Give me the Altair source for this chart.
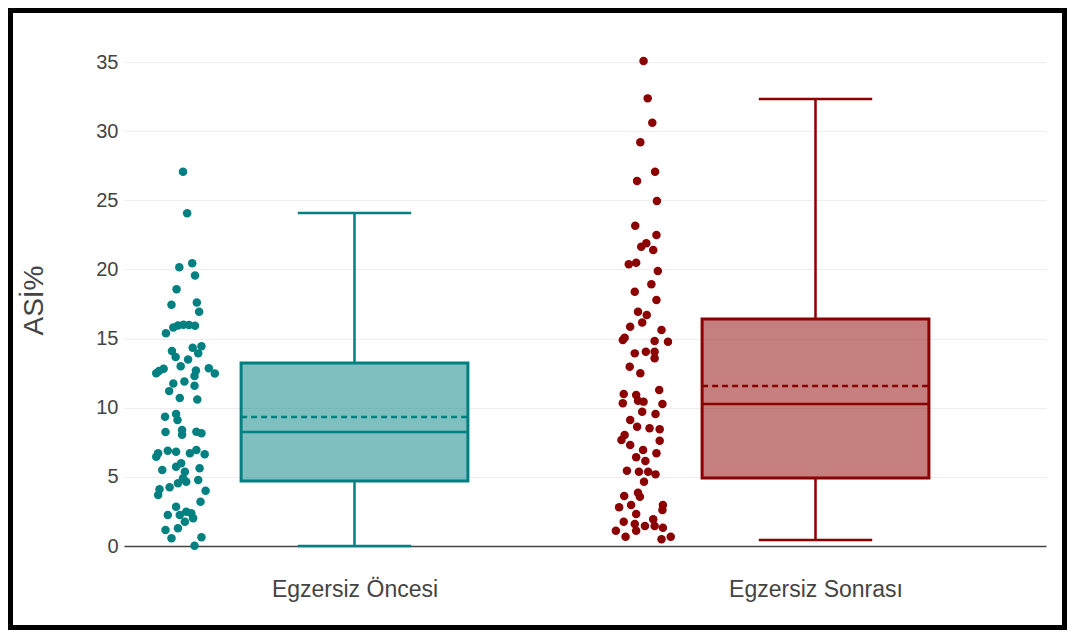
import altair as alt
import pandas as pd

# ---------------- data ----------------
categories = ["Egzersiz Öncesi", "Egzersiz Sonrası"]
colors = ["#008080", "#8B0000"]

# individual observations (ASİ %), with horizontal jitter (category units)
pre_values = [27.07, 24.06, 20.44, 20.15, 19.56, 18.57, 17.45, 17.60, 16.94, 15.39,
              15.80, 15.95, 16.00, 15.98, 15.92, 14.10, 13.66, 14.33, 14.44, 13.93,
              13.48, 13.00, 12.66, 12.82, 12.49, 12.70, 12.29, 12.85, 12.48, 11.90,
              11.75, 11.58, 11.20, 10.70, 10.60, 9.35, 9.54, 9.11, 8.24, 8.39,
              8.05, 8.27, 8.15, 6.46, 6.70, 6.89, 6.82, 6.70, 6.94, 6.63,
              5.50, 5.73, 5.98, 5.37, 4.90, 5.62, 4.77, 4.65, 4.53, 4.24,
              4.10, 3.69, 4.00, 3.20, 2.84, 2.24, 2.24, 2.48, 2.36, 2.00,
              1.76, 1.28, 1.16, 0.56, 0.63, 0.02]
pre_jitter = [-0.372, -0.363, -0.352, -0.380, -0.346, -0.386, -0.397, -0.342, -0.337, -0.409,
              -0.393, -0.383, -0.371, -0.359, -0.346, -0.396, -0.388, -0.351, -0.332, -0.339,
              -0.361, -0.377, -0.424, -0.414, -0.430, -0.344, -0.347, -0.316, -0.303, -0.369,
              -0.393, -0.347, -0.402, -0.379, -0.341, -0.411, -0.387, -0.384, -0.410, -0.374,
              -0.374, -0.343, -0.332, -0.430, -0.426, -0.405, -0.387, -0.357, -0.343, -0.325,
              -0.417, -0.387, -0.376, -0.368, -0.372, -0.336, -0.339, -0.365, -0.383, -0.401,
              -0.423, -0.426, -0.323, -0.334, -0.387, -0.405, -0.379, -0.365, -0.354, -0.350,
              -0.368, -0.383, -0.410, -0.397, -0.332, -0.347]

post_values = [35.07, 32.37, 30.61, 29.19, 27.07, 26.39, 24.95, 23.16, 22.49, 21.89,
               21.64, 21.40, 20.37, 20.49, 19.88, 18.92, 18.39, 17.79, 16.94, 16.70,
               16.17, 15.86, 15.62, 14.90, 15.06, 14.82, 14.77, 13.93, 14.05, 14.05,
               13.57, 12.97, 12.49, 11.28, 10.99, 10.92, 10.32, 10.51, 10.44, 10.27,
               9.71, 9.54, 9.11, 8.63, 8.51, 8.44, 8.03, 7.66, 7.30, 7.61,
               6.94, 6.41, 6.15, 6.70, 5.45, 5.37, 5.37, 5.18, 4.65, 3.85,
               3.62, 3.56, 2.80, 2.96, 2.31, 2.96, 2.60, 1.76, 1.11, 1.59,
               1.11, 1.45, 1.93, 1.45, 1.32, 0.67, 0.48, 0.67]
post_jitter = [-0.373, -0.364, -0.354, -0.380, -0.348, -0.387, -0.344, -0.391, -0.345, -0.367,
               -0.378, -0.352, -0.405, -0.389, -0.342, -0.356, -0.392, -0.345, -0.385, -0.366,
               -0.376, -0.402, -0.334, -0.418, -0.414, -0.349, -0.320, -0.392, -0.368, -0.349,
               -0.349, -0.403, -0.380, -0.339, -0.416, -0.389, -0.418, -0.385, -0.373, -0.332,
               -0.376, -0.347, -0.402, -0.387, -0.360, -0.338, -0.414, -0.421, -0.402, -0.338,
               -0.374, -0.389, -0.369, -0.345, -0.409, -0.383, -0.363, -0.347, -0.372, -0.385,
               -0.415, -0.381, -0.426, -0.400, -0.389, -0.331, -0.332, -0.416, -0.433, -0.392,
               -0.389, -0.370, -0.352, -0.349, -0.331, -0.412, -0.334, -0.314]

# box statistics
stat_low = [0.0, 0.43]
stat_q1 = [4.70, 4.92]
stat_median = [8.24, 10.27]
stat_q3 = [13.23, 16.41]
stat_high = [24.08, 32.32]
stat_mean = [9.33, 11.57]

y_ticks = [0, 5, 10, 15, 20, 25, 30, 35]

# ---------------- tables ----------------
BOX_HALF = 0.246
CAP_HALF = 0.123

pts = pd.DataFrame(
    {"group": [categories[0]] * len(pre_values) + [categories[1]] * len(post_values),
     "x": [0 + j for j in pre_jitter] + [1 + j for j in post_jitter],
     "value": pre_values + post_values}
)

stats = pd.DataFrame({
    "group": categories,
    "idx": [0, 1],
    "low": stat_low, "q1": stat_q1, "median": stat_median,
    "q3": stat_q3, "high": stat_high, "mean": stat_mean,
})
stats["left"] = stats["idx"] - BOX_HALF
stats["right"] = stats["idx"] + BOX_HALF
stats["capl"] = stats["idx"] - CAP_HALF
stats["capr"] = stats["idx"] + CAP_HALF

FONT = "Liberation Sans"
W, H = 922, 484
PAD = {"left": 116, "top": 54, "right": 21, "bottom": 84}

label_expr = "datum.value == 0 ? '%s' : '%s'" % (categories[0], categories[1])

x_scale = alt.Scale(domain=[-0.5, 1.5], nice=False, zero=False)
y_scale = alt.Scale(domain=[0, 35], nice=False, zero=False)

x_axis = alt.Axis(values=[0, 1], labelExpr=label_expr, grid=False, ticks=False,
                  domain=True, domainColor="#444444", domainWidth=1.5,
                  labelFont=FONT, labelFontSize=23, labelColor="#444444",
                  labelPadding=32, title=None)
y_axis = alt.Axis(values=y_ticks, grid=True, gridColor="#eeeeee", gridWidth=1,
                  domain=False, ticks=False, labelFont=FONT, labelFontSize=20,
                  labelColor="#444444", labelPadding=6,
                  title="ASİ%", titleFont=FONT, titleFontSize=28,
                  titleFontWeight="normal", titleColor="#444444",
                  titleX=-76, titleY=238, titleAlign="center")

col_scale = alt.Scale(domain=categories, range=colors)


def X(field):
    return alt.X(f"{field}:Q", scale=x_scale, axis=x_axis)


def Y(field):
    return alt.Y(f"{field}:Q", scale=y_scale, axis=y_axis)


stroke_enc = alt.Stroke("group:N", scale=col_scale, legend=None)

base = alt.Chart(stats)

boxes = base.mark_bar(fillOpacity=0.5, strokeWidth=3).encode(
    x=X("left"), x2="right", y=Y("q1"), y2="q3",
    fill=alt.Fill("group:N", scale=col_scale, legend=None),
    stroke=stroke_enc,
)
upper_whisker = base.mark_rule(strokeWidth=2.5).encode(
    x=X("idx"), y=Y("q3"), y2="high", stroke=stroke_enc)
lower_whisker = base.mark_rule(strokeWidth=2.5).encode(
    x=X("idx"), y=Y("low"), y2="q1", stroke=stroke_enc)
upper_cap = base.mark_rule(strokeWidth=2.5).encode(
    x=X("capl"), x2="capr", y=Y("high"), stroke=stroke_enc)
lower_cap = base.mark_rule(strokeWidth=2.5).encode(
    x=X("capl"), x2="capr", y=Y("low"), stroke=stroke_enc)
median = base.mark_rule(strokeWidth=2.5).encode(
    x=X("left"), x2="right", y=Y("median"), stroke=stroke_enc)
mean = base.mark_rule(strokeWidth=2.5, strokeDash=[6, 4]).encode(
    x=X("left"), x2="right", y=Y("mean"), stroke=stroke_enc)

points = alt.Chart(pts).mark_circle(size=72, opacity=1).encode(
    x=X("x"), y=Y("value"),
    color=alt.Color("group:N", scale=col_scale, legend=None),
)

frame = alt.Chart(alt.Data(values=[{"a": 1}])).mark_rect(
    filled=False, stroke="black", strokeWidth=5).encode(
    x=alt.value(-PAD["left"] + 2.5), x2=alt.value(W + PAD["right"] - 2.5),
    y=alt.value(-PAD["top"] + 2.5), y2=alt.value(H + PAD["bottom"] - 2.5),
)

chart = alt.layer(
    boxes, upper_whisker, lower_whisker, upper_cap, lower_cap, median, mean,
    points, frame
).properties(
    width=W, height=H,
    autosize=alt.AutoSizeParams(type="none"),
    padding=PAD,
    background="white",
).configure_view(stroke=None)

chart.save("out.html", embed_options={"renderer": "svg", "actions": False})
